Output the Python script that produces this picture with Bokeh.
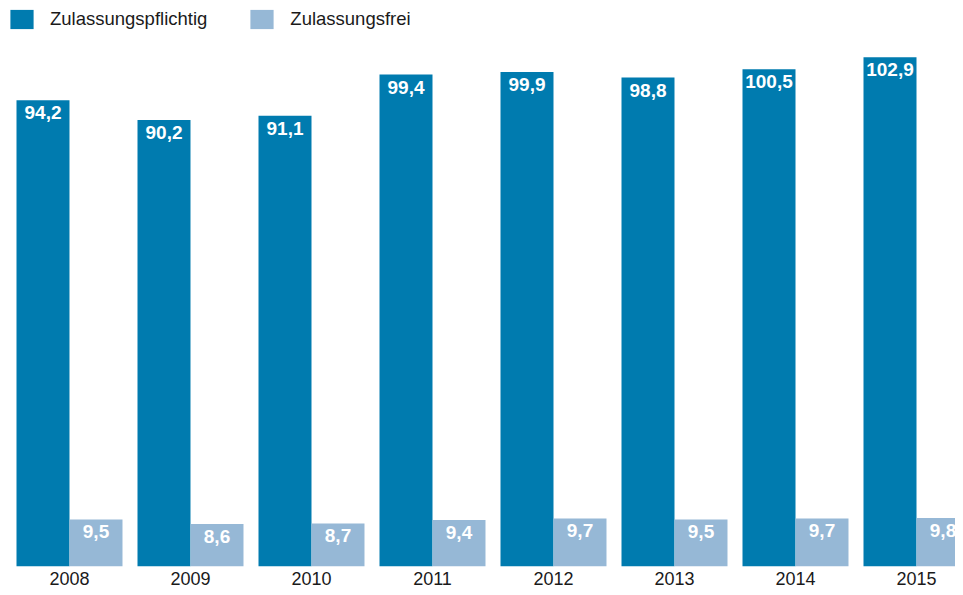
from bokeh.plotting import figure
from bokeh.models import ColumnDataSource, Range1d, FixedTicker, Legend, LegendItem
from bokeh.embed import file_html
from bokeh.resources import INLINE
from bokeh.core.properties import value

years = ["2008", "2009", "2010", "2011", "2012", "2013", "2014", "2015"]
pflichtig = [94.2, 90.2, 91.1, 99.4, 99.9, 98.8, 100.5, 102.9]
frei = [9.5, 8.6, 8.7, 9.4, 9.7, 9.5, 9.7, 9.8]

DARK = "#007BAF"
LIGHT = "#96B8D6"
FONT = "Liberation Sans"
BW = 0.438

idx = list(range(len(years)))
fmt = lambda v: f"{v:.1f}".replace(".", ",")

src_a = ColumnDataSource(dict(x=[i - BW / 2 for i in idx], top=pflichtig,
                              lab=[fmt(v) for v in pflichtig]))
src_b = ColumnDataSource(dict(x=[i + BW / 2 for i in idx], top=frei,
                              lab=[fmt(v) for v in frei]))

p = figure(width=955, height=587, output_backend="svg", toolbar_location=None,
           x_range=Range1d(-0.5702, 7.3223), y_range=Range1d(0, 114.37),
           min_border=0, min_border_left=0, min_border_right=0, min_border_top=0)
p.outline_line_color = None
p.xgrid.visible = False
p.ygrid.visible = False
p.yaxis.visible = False
p.background_fill_color = "white"
p.border_fill_color = "white"

ra = p.vbar(x="x", top="top", bottom=0, width=BW, source=src_a, fill_color=DARK, line_color=None)
rb = p.vbar(x="x", top="top", bottom=0, width=BW, source=src_b, fill_color=LIGHT, line_color=None)

for s in (src_a, src_b):
    p.text(x="x", y="top", text="lab", source=s, text_color="white",
           text_font=value(FONT), text_font_style="bold", text_font_size="19px",
           text_align="center", text_baseline="top", y_offset=6)

ax = p.xaxis[0]
ax.ticker = FixedTicker(ticks=idx)
ax.major_label_overrides = {i: y for i, y in zip(idx, years)}
ax.major_tick_line_color = None
ax.minor_tick_line_color = None
ax.axis_line_color = None
ax.major_tick_out = 0
ax.major_tick_in = 0
ax.major_label_standoff = 5
ax.major_label_text_font = FONT
ax.major_label_text_font_size = "18px"
ax.major_label_text_color = "#1a1a1a"

legend = Legend(items=[LegendItem(label="Zulassungspflichtig", renderers=[ra]),
                       LegendItem(label="Zulassungsfrei", renderers=[rb])],
                orientation="horizontal", location="top_left",
                glyph_width=29, glyph_height=24, label_standoff=14, spacing=40,
                padding=0, margin=7, border_line_color=None, background_fill_alpha=0,
                label_text_font=FONT, label_text_font_size="18.5px", label_text_color="#1a1a1a")
p.add_layout(legend, "center")

open("out.html", "w").write(file_html(p, INLINE))
